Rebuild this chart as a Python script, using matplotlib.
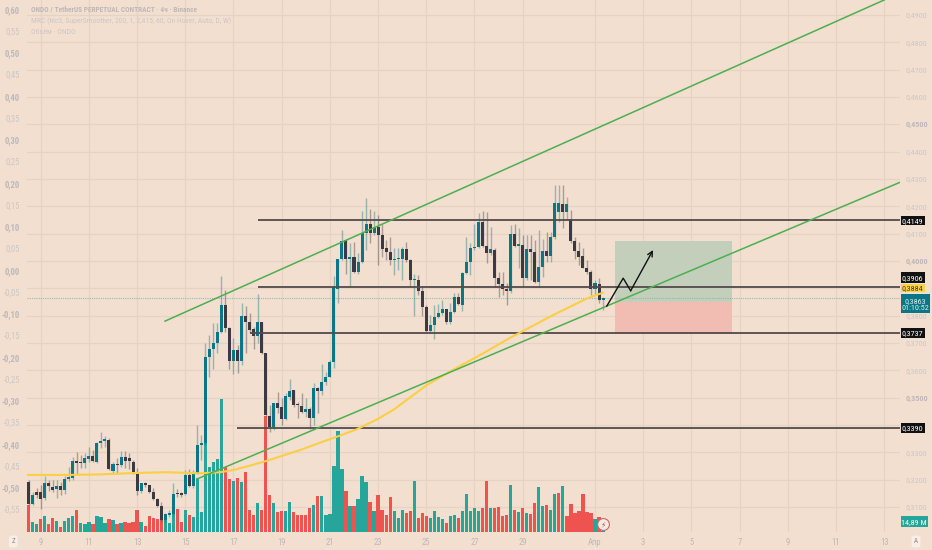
import numpy as np
import matplotlib.pyplot as plt
from matplotlib.patches import Rectangle
import logging
logging.getLogger('matplotlib.font_manager').setLevel(logging.ERROR)

W, H = 932, 550
BG = '#f2dfcf'
GRID = '#e5d3c3'
TXT = '#cdc7c6'
TXT_B = '#bdb8ba'
UP = '#0b7686'
DOWN = '#3b3a42'
VOL_G = '#26a69a'
VOL_R = '#ef5350'
plt.rcParams['font.family'] = ['Roboto Condensed', 'Liberation Sans', 'DejaVu Sans']

# 4h candles, first one starts halfway through March 8
first_day = 8.5
opens = [.3190,.3109,.3153,.3153,.3131,.3189,.3174,.3164,.3178,.3162,.3201,.3205,
         .3267,.3262,.3259,.3275,.3287,.3265,.3333,.3342,.3345,.3233,.3257,.3253,
         .3284,.3280,.3265,.3225,.3157,.3186,.3180,.3156,.3128,.3104,.3052,.3072,
         .3073,.3150,.3150,.3146,.3217,.3176,.3223,.3327,.3335,.3647,.3677,.3701,
         .3740,.3839,.3753,.3634,.3674,.3634,.3800,.3778,.3750,.3725,.3778,.3662,
         .3434,.3394,.3481,.3464,.3422,.3503,.3528,.3477,.3469,.3449,.3457,.3424,
         .3534,.3525,.3557,.3577,.3629,.3899,.4006,.4076,.4009,.4013,.3960,.3997,
         .4101,.4134,.4103,.4125,.4095,.4046,.4034,.4003,.4006,.4006,.4042,.4003,
         .3930,.3932,.3890,.3832,.3745,.3765,.3796,.3808,.3823,.3778,.3814,.3867,
         .3838,.3957,.3995,.4046,.4052,.4141,.4054,.4028,.4040,.3936,.3915,.3899,
         .3891,.4097,.4056,.4058,.3936,.4043,.4034,.3924,.3979,.4036,.4018,.4089,
         .4180,.4208,.4180,.4152,.4073,.4037,.4018,.3976,.3960,.3899,.3915,.3859]
highs = [.3198,.3156,.3168,.3180,.3213,.3198,.3198,.3198,.3192,.3213,.3247,.3281,
         .3302,.3290,.3296,.3320,.3308,.3339,.3373,.3359,.3351,.3265,.3278,.3306,
         .3306,.3296,.3272,.3241,.3189,.3192,.3180,.3168,.3131,.3119,.3076,.3089,
         .3186,.3164,.3156,.3235,.3237,.3235,.3400,.3363,.3701,.3729,.3772,.3772,
         .3945,.3894,.3760,.3717,.3692,.3845,.3835,.3808,.3760,.3879,.3778,.3662,
         .3473,.3481,.3522,.3497,.3516,.3567,.3528,.3485,.3516,.3497,.3467,.3555,
         .3540,.3622,.3595,.3638,.3945,.4007,.4115,.4080,.4064,.4070,.4030,.4184,
         .4229,.4189,.4184,.4168,.4137,.4076,.4089,.4046,.4046,.4052,.4070,.4006,
         .3952,.3948,.3908,.3838,.3802,.3838,.3842,.3857,.3826,.3847,.3881,.3884,
         .3961,.4089,.4064,.4137,.4174,.4184,.4180,.4125,.4046,.3961,.3961,.3918,
         .4131,.4137,.4119,.4095,.4095,.4095,.4076,.4113,.4082,.4107,.4107,.4278,
         .4278,.4278,.4235,.4186,.4089,.4070,.4046,.4003,.3967,.3932,.3936,.3867]
lows = [.3107,.3107,.3131,.3091,.3125,.3159,.3156,.3131,.3143,.3147,.3196,.3198,
        .3220,.3241,.3241,.3265,.3265,.3262,.3314,.3320,.3235,.3223,.3220,.3247,
        .3241,.3237,.3220,.3143,.3150,.3174,.3152,.3125,.3101,.3050,.3046,.3064,
        .3068,.3137,.3135,.3143,.3172,.3168,.3220,.3272,.3327,.3574,.3603,.3662,
        .3735,.3741,.3603,.3585,.3591,.3619,.3662,.3735,.3677,.3699,.3660,.3434,
        .3375,.3381,.3442,.3400,.3418,.3491,.3467,.3424,.3442,.3430,.3387,.3400,
        .3442,.3510,.3546,.3574,.3607,.3848,.4003,.3951,.3903,.3957,.3954,.3993,
        .4040,.4067,.4095,.3985,.4015,.4003,.3985,.3948,.3967,.3930,.3997,.3906,
        .3798,.3875,.3798,.3741,.3735,.3716,.3790,.3802,.3771,.3769,.3810,.3838,
        .3818,.3954,.3948,.4040,.4046,.4052,.3991,.4021,.3906,.3867,.3875,.3838,
        .3881,.4052,.3973,.3906,.3930,.3930,.3918,.3906,.3942,.3997,.3997,.4082,
        .4144,.4119,.4150,.4064,.4009,.3985,.3973,.3954,.3875,.3875,.3845,.3820]
closes = [.3109,.3143,.3143,.3129,.3189,.3176,.3162,.3178,.3162,.3201,.3208,.3269,
          .3259,.3259,.3278,.3287,.3269,.3333,.3342,.3345,.3239,.3257,.3252,.3281,
          .3269,.3269,.3223,.3159,.3186,.3180,.3156,.3128,.3103,.3052,.3073,.3073,
          .3147,.3146,.3143,.3217,.3176,.3223,.3327,.3335,.3647,.3678,.3701,.3740,
          .3839,.3756,.3634,.3674,.3634,.3800,.3775,.3747,.3725,.3775,.3662,.3436,
          .3394,.3481,.3461,.3422,.3506,.3525,.3473,.3472,.3449,.3457,.3424,.3534,
          .3525,.3558,.3577,.3629,.3904,.4007,.4074,.4007,.4013,.3960,.3997,.4101,
          .4134,.4103,.4125,.4095,.4043,.4034,.4003,.4006,.4008,.4042,.4003,.3930,
          .3932,.3891,.3832,.3745,.3765,.3796,.3810,.3823,.3778,.3814,.3867,.3842,
          .3957,.3995,.4046,.4052,.4141,.4054,.4028,.4042,.3936,.3915,.3899,.3891,
          .4097,.4054,.4058,.3936,.4043,.4031,.3924,.3979,.4036,.4018,.4089,.4211,
          .4213,.4180,.4208,.4073,.4036,.4015,.3976,.3960,.3899,.3918,.3859,.3863]

# volume in millions
volumes = [320,124,100,152,188,92,172,136,60,136,
           172,196,264,112,92,120,100,188,176,108,
           160,144,92,104,120,108,120,264,120,76,
           196,168,160,152,144,112,216,280,120,264,
           208,176,648,236,1076,784,836,876,1600,784,
           640,608,652,604,724,268,208,348,268,1396,
           444,348,236,256,248,360,236,200,200,200,
           288,328,428,428,200,216,788,1216,760,496,
           316,316,396,676,600,360,248,444,260,208,
           420,248,164,260,228,256,608,164,228,196,
           172,248,180,152,104,196,208,164,256,460,
           256,284,256,292,608,292,292,300,196,208,
           564,268,240,284,232,216,348,536,316,324,
           264,452,468,556,188,332,224,256,452,240,
           232,160,184,14.89]
vol_sides = ('RGGRGRRGRG' 'GGRGGGRGGG' 'RGRGRRRRGR' 'RRRRGGGRRG'
             'RGGGGGGGGR' 'RGRGRRRGRR' 'RGRRGGRRRR' 'RGRGGGGGGR'
             'GRGGGRGRRR' 'RGGGRRGRRR' 'GGGGRGGRGG' 'GGGRRGRRRR'
             'GRGRGRRGGR' 'GGRGRRRRRR' 'RGRG')

# moving average
ma_days = [8.43,10.09,11.46,12.83,14.24,15.61,16.44,16.98,17.68,18.39,19.05,19.76,20.59,
           21.29,22.11,22.95,23.63,25.02,25.98,27.36,28.44,30.26,31.67,32.33]
ma_vals = [.3217,.3217,.3219,.3224,.3227,.3223,.3227,.3235,.3251,.3269,.3288,.3308,.3335,
           .3357,.3384,.3420,.3455,.3546,.3595,.3662,.3717,.3802,.3863,.3884]

# drawings
channel_up_days = [14.16, 44.0]
channel_up_vals = [.3780, .4955]
channel_low_days = [15.48, 44.66]
channel_low_vals = [.3202, .4288]
level_vals = [.4149, .3906, .3737, .3390]
level_starts = [18.0, 18.0, 17.67, 17.14]
arrow_days = [32.49, 33.17, 33.48, 34.41]
arrow_vals = [.3835, .3937, .3891, .4040]
last_price = .3863
pos_days = [32.83, 37.68]
pos_top, pos_mid, pos_bottom = .4073, .3851, .3733

right_ticks = [.49,.48,.47,.46,.45,.44,.43,.42,.41,.40,.38,.37,.36,.35,.33,.32,.31]
grid_prices = [.49,.48,.47,.46,.45,.44,.43,.42,.41,.40,.39,.38,.37,.36,.35,.34,.33,.32,.31]
left_ticks = [.60,.55,.50,.45,.40,.35,.30,.25,.20,.15,.10,.05,0,-.05,-.10,-.15,-.20,-.25,-.30,-.35,-.40,-.45,-.50,-.55]
day_ticks = [9,11,13,15,17,19,21,23,25,27,29,32,34,36,38,40,42,44]
day_labels = ['9','11','13','15','17','19','21','23','25','27','29','Апр','3','5','7','9','11','13']

fig = plt.figure(figsize=(W/100, H/100), dpi=100, facecolor=BG)
ax_vol = fig.add_axes([27/W, 18/H, 873/W, 532/H])
ax = fig.add_axes([27/W, 18/H, 873/W, 532/H], sharex=ax_vol)
ax_vol.set_facecolor(BG)
ax.patch.set_visible(False)

ax.set_xlim(8.4315, 44.656)
ax.set_ylim(.30083, .49549)
ax_vol.set_ylim(0, 6384)
ax_vol.set_yticks([])

t = first_day + np.arange(len(opens))/6
opens, highs, lows, closes = map(np.array, (opens, highs, lows, closes))

# grid sits on the volume axes so bars cover it
ax_vol.set_xticks(day_ticks)
ax_vol.set_xticklabels(day_labels, color=TXT_B, fontsize=6.2)
ax_vol.tick_params(axis='x', length=0, pad=4.5)
ax_vol.xaxis.grid(True, color=GRID, linewidth=0.9)
ax_vol.set_axisbelow(True)
for tick_val in grid_prices:
    ax_vol.axhline((tick_val-.30083)/(.49549-.30083)*6384, color=GRID, linewidth=0.9, zorder=0)

vol_cols = [VOL_G if c == 'G' else VOL_R for c in vol_sides]
ax_vol.bar(t, volumes, width=.135, color=vol_cols, linewidth=0, zorder=2)

# position box
ax.add_patch(Rectangle((pos_days[0], pos_mid), pos_days[1]-pos_days[0], pos_top-pos_mid,
                       color='#c3cfbb', lw=0, zorder=1))
ax.add_patch(Rectangle((pos_days[0], pos_bottom), pos_days[1]-pos_days[0], pos_mid-pos_bottom,
                       color='#f1bcb1', lw=0, zorder=1))

# candles
cols = np.where(closes >= opens, UP, DOWN)
ax.vlines(t, lows, highs, colors=cols, linewidth=1.0, alpha=0.4, zorder=3)
body_low = np.minimum(opens, closes)
body_h = np.maximum(np.abs(closes-opens), .0005)
ax.bar(t, body_h, bottom=body_low, width=.125, color=cols, linewidth=0, zorder=4)

# price line
ax.axhline(last_price, color='#7fb3ad', linestyle=(0, (1, 1)), linewidth=0.8, alpha=0.8, zorder=2)

for val, start in zip(level_vals, level_starts):
    ax.hlines(val, start, 44.656, color='#514b4b', linewidth=1.3, zorder=5)

ax.plot(ma_days, ma_vals, color='#f9cf45', linewidth=1.5, zorder=5)
ax.plot(channel_up_days, channel_up_vals, color='#4caf50', linewidth=1.1, zorder=6)
ax.plot(channel_low_days, channel_low_vals, color='#4caf50', linewidth=1.1, zorder=6)

ax.plot(arrow_days[:3], arrow_vals[:3], color='#111111', linewidth=1.0, zorder=7)
ax.annotate('', xy=(arrow_days[3], arrow_vals[3]), xytext=(arrow_days[2], arrow_vals[2]),
            arrowprops=dict(arrowstyle='->', color='#111111', lw=1.0, shrinkA=0, shrinkB=0,
                            mutation_scale=9), zorder=7)

# left percent scale
ax_left = ax.twinx()
ax_left.yaxis.tick_left()
ax_left.set_ylim((270.3-532)/434.8, 270.3/434.8)
ax_left.set_yticks(left_ticks)
ax_left.set_yticklabels([f'{v:.2f}'.replace('.', ',') for v in left_ticks], fontsize=6.2, color=TXT)
ax_left.tick_params(axis='y', length=0, pad=5)
for i, lab in enumerate(ax_left.get_yticklabels()):
    if i % 2 == 0:
        lab.set_fontweight('bold')
        lab.set_color(TXT_B)

# right price scale
ax.yaxis.tick_right()
ax.set_yticks(right_ticks)
ax.set_yticklabels([f'{v:.4f}'.replace('.', ',') for v in right_ticks], fontsize=5.9, color=TXT)
ax.tick_params(axis='y', length=0, pad=4)
ax.tick_params(axis='x', length=0, labelbottom=False)
for lab, v in zip(ax.get_yticklabels(), right_ticks):
    if round(v*100) % 5 == 0:
        lab.set_fontweight('bold')
        lab.set_color(TXT_B)

for a in (ax, ax_vol, ax_left):
    for s in a.spines.values():
        s.set_visible(False)


def box(x0, y0, x1, y1, color, text, tcolor='white', size=5.9):
    # pixel coordinates, y from the top
    fig.add_artist(Rectangle((x0/W, 1-y1/H), (x1-x0)/W, (y1-y0)/H, color=color, lw=0,
                             transform=fig.transFigure, zorder=20))
    fig.text((x0+x1)/2/W, 1-(y0+y1)/2/H, text, color=tcolor, fontsize=size, ha='center',
             va='center_baseline', linespacing=1.15, zorder=21)


box(900.5, 215.7, 925, 225.3, '#111111', '0,4149')
box(900.5, 272, 925, 282.7, '#111111', '0,3906')
box(900.5, 283.7, 925, 292.3, '#fbd04f', '0,3884', tcolor='#4a3f20')
box(900.5, 294, 930, 312.7, '#0b7686', '0,3863\n01:10:52', tcolor='#d8eeee')
box(900.5, 328, 925, 337.7, '#111111', '0,3737')
box(900.5, 423.3, 925, 432.7, '#111111', '0,3390')
box(900.5, 516, 928, 526.7, VOL_G, '14,89 M')

# chart title lines
fig.text(31/W, 1-10/H, 'ONDO / TetherUS PERPETUAL CONTRACT · 4ч · Binance', color=TXT_B,
         fontsize=5.3, fontweight='bold', va='center')
fig.text(31/W, 1-21/H, 'MRC (hlc3, SuperSmoother, 200, 1, 2,415, 60, On Hover, Auto, D, W)',
         color=TXT, fontsize=5.5, va='center')
fig.text(31/W, 1-32/H, 'Объём · ONDO', color=TXT, fontsize=5.5, va='center')

# corner buttons
for px, letter in [(13.3, 'Z'), (916, 'A')]:
    fig.text(px/W, 1-541.5/H, letter, color='#8d8a8a', fontsize=5, ha='center', va='center',
             bbox=dict(boxstyle='round,pad=0.35', fc='#f8eee6', ec='none'))

# lightning badge over the last volume bar
ax.plot([t[-1]], [.30083 + 7.7/2733], marker='o', markersize=8.5, mfc='#f6ece4', mec='#c56a6a',
        mew=0.8, zorder=8, clip_on=False)
ax.text(t[-1], .30083 + 7.7/2733, '\u26a1', color='#c0504d', fontsize=5.5, ha='center', va='center',
        family='DejaVu Sans', zorder=9)

fig.savefig('out.png', dpi=100, facecolor=BG)
